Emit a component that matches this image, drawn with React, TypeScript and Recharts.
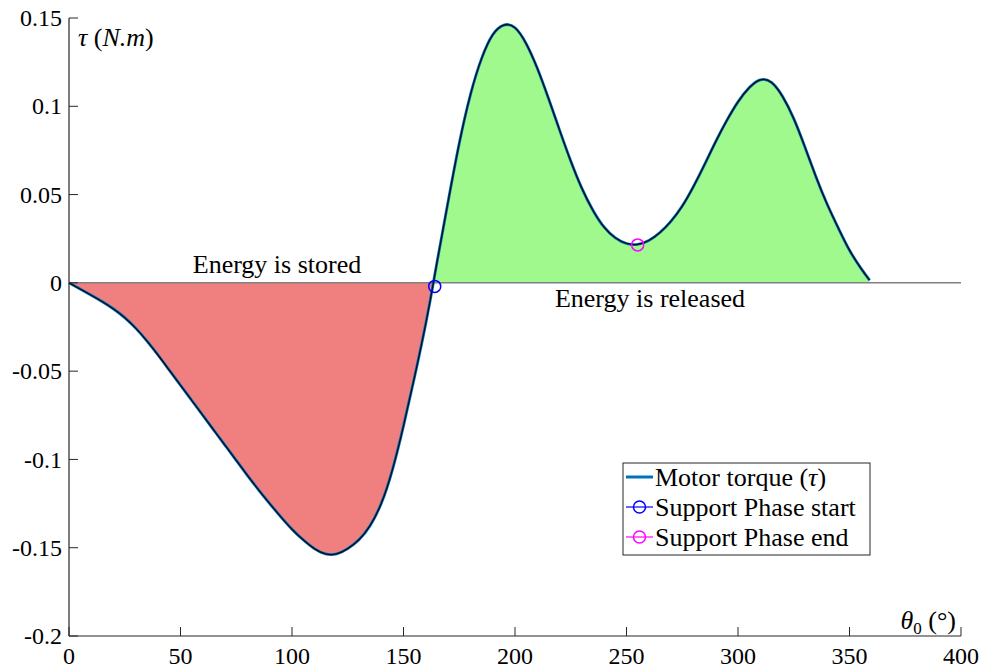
import {
  ComposedChart,
  Line,
  Area,
  XAxis,
  YAxis,
  ReferenceLine,
  ReferenceDot,
  Customized,
} from "recharts";

const theta = [
  0, 5, 10, 15, 20, 25, 30, 35, 40, 45, 50, 55, 60, 65, 70, 75, 80, 85, 90, 95,
  100, 105, 110, 115, 120, 125, 130, 135, 140, 145, 150, 155, 160, 163.4, 165,
  170, 175, 180, 185, 190, 195, 200, 205, 210, 215, 220, 225, 230, 235, 240,
  245, 250, 255, 260, 265, 270, 275, 280, 285, 290, 295, 300, 305, 310, 315,
  320, 325, 330, 335, 340, 345, 350, 355, 359,
];

const torque = [
  0, -0.0035, -0.007, -0.0107, -0.0148, -0.0197, -0.0258, -0.033, -0.041,
  -0.0495, -0.058, -0.0665, -0.075, -0.0835, -0.092, -0.1005, -0.109, -0.1172,
  -0.125, -0.1325, -0.1395, -0.1455, -0.1505, -0.1535, -0.1535, -0.1505,
  -0.1455, -0.1375, -0.125, -0.106, -0.081, -0.053, -0.023, 0, 0.0115, 0.046,
  0.079, 0.1065, 0.127, 0.1405, 0.146, 0.1445, 0.1355, 0.1215, 0.1045, 0.0865,
  0.069, 0.0535, 0.041, 0.0315, 0.0255, 0.0223, 0.0218, 0.024, 0.0285, 0.035,
  0.0435, 0.0545, 0.067, 0.08, 0.092, 0.1025, 0.1105, 0.115, 0.1135, 0.1055,
  0.093, 0.077, 0.06, 0.0445, 0.031, 0.0185, 0.0085, 0.0015,
];

const zeroCross = 163.4;
const phaseStart = { x: 164, y: -0.002 };
const phaseEnd = { x: 255, y: 0.0215 };

const xTicks = [0, 50, 100, 150, 200, 250, 300, 350, 400];
const yTicks = [-0.2, -0.15, -0.1, -0.05, 0, 0.05, 0.1, 0.15];

const legendItems = ["Motor torque (τ)", "Support Phase start", "Support Phase end"];

const data = theta.map((t, i) => ({
  theta: t,
  tau: torque[i],
  neg: t <= zeroCross ? Math.min(torque[i], 0) : null,
  pos: t >= zeroCross ? Math.max(torque[i], 0) : null,
}));

// single family name as an attribute, no letter spacing: anything else falls back to sans
const FONT = "Liberation Serif";
const AXIS = "#262626";
const PLOT_LEFT = 69;
const PLOT_BOTTOM = 636;

const fmt = (v: number) => String(Number(v.toFixed(2)));

const XTick = ({ x, payload }: any) => (
  <g>
    <line x1={x} y1={PLOT_BOTTOM} x2={x} y2={PLOT_BOTTOM - 9} stroke={AXIS} />
    <text x={x} y={664} textAnchor="middle" fontFamily={FONT} fontSize={24} fill="#000">
      {fmt(payload.value)}
    </text>
  </g>
);

const YTick = ({ y, payload }: any) => (
  <g>
    <line x1={PLOT_LEFT} y1={y} x2={PLOT_LEFT + 9} y2={y} stroke={AXIS} />
    <text
      x={62}
      y={y}
      dy="0.34em"
      textAnchor="end"
      fontFamily={FONT}
      fontSize={24}
      fill="#000"
    >
      {fmt(payload.value)}
    </text>
  </g>
);

const Labels = () => (
  <g fill="#000">
    <text x={78} y={46} fontFamily={FONT} fontSize={26}>
      <tspan fontStyle="italic">τ</tspan>
      <tspan>  (</tspan>
      <tspan fontStyle="italic">N.m</tspan>
      <tspan>)</tspan>
    </text>
    <text x={956} y={629} textAnchor="end" fontFamily={FONT} fontSize={26}>
      <tspan fontStyle="italic">θ</tspan>
      <tspan fontSize={17} dy={5}>0</tspan>
      <tspan dy={-5}>  (°)</tspan>
    </text>
    <text x={277} y={273} textAnchor="middle" fontFamily={FONT} fontSize={26}>
      Energy is stored
    </text>
    <text x={650} y={307} textAnchor="middle" fontFamily={FONT} fontSize={26}>
      Energy is released
    </text>
  </g>
);

const LegendBox = () => {
  const rows = [477, 507, 537];
  return (
    <g fill="#000">
      <rect x={623} y={463} width={247} height={92} fill="#fff" stroke={AXIS} />
      <line x1={626} y1={rows[0]} x2={653} y2={rows[0]} stroke="#0072BD" strokeWidth={3} />
      <line x1={626} y1={rows[1]} x2={653} y2={rows[1]} stroke="#0000FF" strokeWidth={1.2} />
      <circle cx={639.5} cy={rows[1]} r={6} fill="none" stroke="#0000FF" strokeWidth={1.5} />
      <line x1={626} y1={rows[2]} x2={653} y2={rows[2]} stroke="#FF00FF" strokeWidth={1.2} />
      <circle cx={639.5} cy={rows[2]} r={6} fill="none" stroke="#FF00FF" strokeWidth={1.5} />
      {legendItems.map((name, i) => (
        <text key={name} x={655} y={rows[i]} dy="0.34em" fontFamily={FONT} fontSize={26}>
          {i === 0 ? (
            <>
              Motor torque (<tspan fontStyle="italic">τ</tspan>)
            </>
          ) : (
            name
          )}
        </text>
      ))}
    </g>
  );
};

export default function App() {
  return (
    <div
      style={{
        position: "absolute",
        left: 0,
        top: 0,
        width: 985,
        height: 669,
        background: "#fff",
      }}
    >
      <ComposedChart
        width={985}
        height={669}
        data={data}
        margin={{ top: 18, right: 24, left: 9, bottom: 3 }}
      >
        <XAxis
          dataKey="theta"
          type="number"
          domain={[0, 400]}
          ticks={xTicks}
          interval={0}
          height={30}
          tickLine={false}
          axisLine={{ stroke: AXIS, strokeWidth: 1.2 }}
          tick={<XTick />}
        />
        <YAxis
          type="number"
          domain={[-0.2, 0.15]}
          ticks={yTicks}
          interval={0}
          width={60}
          allowDataOverflow
          tickLine={false}
          axisLine={{ stroke: AXIS, strokeWidth: 1.2 }}
          tick={<YTick />}
        />
        <Area
          dataKey="neg"
          type="natural"
          fill="#F08080"
          fillOpacity={1}
          stroke="none"
          isAnimationActive={false}
        />
        <Area
          dataKey="pos"
          type="natural"
          fill="#A0F98D"
          fillOpacity={1}
          stroke="none"
          isAnimationActive={false}
        />
        <ReferenceLine y={0} stroke="#808080" strokeWidth={1.5} />
        <Line
          dataKey="tau"
          type="natural"
          stroke="#0072BD"
          strokeWidth={2.8}
          dot={false}
          isAnimationActive={false}
        />
        <Line
          dataKey="tau"
          type="natural"
          stroke="#0a0a1a"
          strokeWidth={1.3}
          dot={false}
          isAnimationActive={false}
        />
        <ReferenceDot
          x={phaseStart.x}
          y={phaseStart.y}
          r={6}
          fill="none"
          stroke="#0000FF"
          strokeWidth={1.5}
        />
        <ReferenceDot
          x={phaseEnd.x}
          y={phaseEnd.y}
          r={6}
          fill="none"
          stroke="#FF00FF"
          strokeWidth={1.5}
        />
        <Customized component={<Labels />} />
        <Customized component={<LegendBox />} />
      </ComposedChart>
    </div>
  );
}
